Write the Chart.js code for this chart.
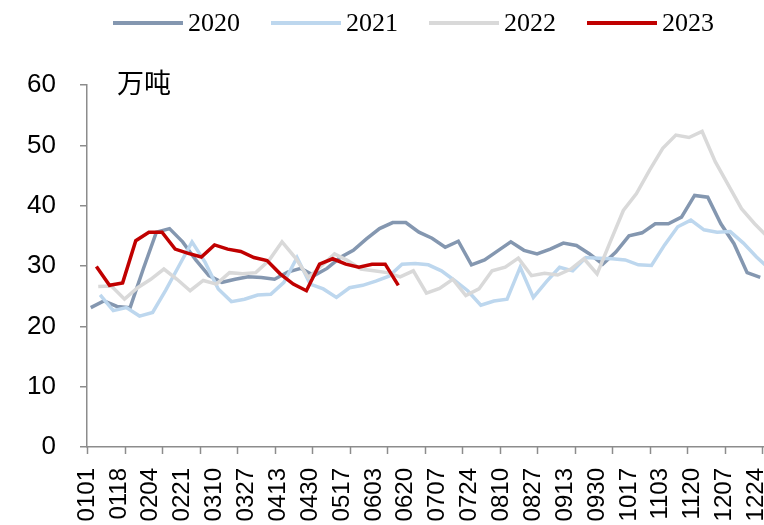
<!DOCTYPE html>
<html>
<head>
<meta charset="utf-8">
<script src="https://cdn.jsdelivr.net/npm/chart.js@4.4.0/dist/chart.umd.min.js"></script>
<style>
  html, body { margin: 0; padding: 0; background: #fff; }
  canvas { display: block; }
</style>
</head>
<body>
<canvas id="chart" width="764" height="525"></canvas>
<script>
// weekly readings, 万吨; first reading's day-of-year per year
const years = ['2020', '2021', '2022', '2023'];
const startDay = [2, 7, 6, 5];

const v2020 = [23.1, 24.2, 23.3, 23.1, 29.5, 35.6, 36.2, 34.0, 31.0, 28.4,
  27.3, 27.8, 28.2, 28.1, 27.8, 29.0, 29.6, 28.4, 29.6, 31.4,
  32.6, 34.5, 36.2, 37.2, 37.2, 35.6, 34.6, 33.1, 34.1, 30.2,
  31.0, 32.5, 34.0, 32.6, 32.0, 32.8, 33.8, 33.4, 32.0, 30.3,
  32.3, 35.0, 35.5, 37.0, 37.0, 38.1, 41.7, 41.4, 37.0, 33.7,
  28.9, 28.1];
const v2021 = [25.2, 22.6, 23.1, 21.7, 22.3, 26.0, 30.0, 34.0, 30.6, 26.2,
  24.1, 24.5, 25.2, 25.3, 27.3, 31.4, 27.0, 26.2, 24.8, 26.4,
  26.8, 27.5, 28.3, 30.3, 30.4, 30.2, 29.2, 27.6, 25.9, 23.5,
  24.2, 24.5, 29.8, 24.8, 27.4, 29.8, 29.2, 31.4, 31.3, 31.2,
  31.0, 30.2, 30.1, 33.5, 36.5, 37.6, 36.0, 35.6, 35.7, 33.8,
  31.5, 29.5];
const v2022 = [26.6, 26.7, 24.5, 26.4, 27.8, 29.5, 27.8, 25.9, 27.6, 27.0,
  28.9, 28.7, 28.9, 30.9, 34.0, 31.4, 28.1, 30.0, 32.0, 30.9,
  29.5, 29.2, 28.9, 28.2, 29.2, 25.5, 26.3, 27.8, 25.1, 26.2,
  29.2, 29.8, 31.3, 28.4, 28.8, 28.5, 29.5, 31.2, 28.7, 34.0,
  39.2, 42.0, 45.9, 49.5, 51.7, 51.3, 52.3, 47.3, 43.4, 39.5,
  37.0, 34.8];
const v2023 = [29.9, 26.8, 27.2, 34.2, 35.6, 35.6, 32.8, 32.1, 31.5, 33.5,
  32.8, 32.4, 31.4, 30.9, 28.7, 27.0, 25.9, 30.3, 31.2, 30.3,
  29.8, 30.3, 30.3, 26.8];

const tickLabels = ['0101', '0118', '0204', '0221', '0310', '0327', '0413', '0430',
  '0517', '0603', '0620', '0707', '0724', '0810', '0827', '0913', '0930', '1017',
  '1103', '1120', '1207', '1224'];
const unitLabel = '万吨';

const colors = ['#8497b0', '#bdd7ee', '#d9d9d9', '#c00000'];
const axisColor = '#8c8c8c';

function weekly(start, vals) {
  return vals.map((v, i) => ({ x: start + 7 * i, y: v }));
}

const series = [v2020, v2021, v2022, v2023];
const datasets = years.map((y, i) => ({
  label: y,
  data: weekly(startDay[i], series[i]),
  borderColor: colors[i],
  backgroundColor: colors[i],
  borderWidth: 3.5,
  pointRadius: 0,
  tension: 0,
  order: 3 - i   // later years on top
}));

const extras = {
  id: 'extras',
  afterDraw(chart) {
    const { ctx, chartArea, scales: { x } } = chart;
    ctx.save();
    // x axis tick marks (every 20 days, separate from the labels)
    ctx.strokeStyle = axisColor;
    ctx.lineWidth = 1.5;
    for (let d = 0; d <= x.max; d += 20) {
      const px = Math.round(x.getPixelForValue(d)) + 0.5;
      ctx.beginPath();
      ctx.moveTo(px, chartArea.bottom);
      ctx.lineTo(px, chartArea.bottom + 7);
      ctx.stroke();
    }
    // unit
    ctx.fillStyle = '#000';
    ctx.textBaseline = 'middle';
    ctx.textAlign = 'left';
    ctx.font = '27px "Noto Sans CJK SC"';
    ctx.fillText(unitLabel, chartArea.left + 30, chartArea.top - 2);
    // legend
    ctx.font = '26px "Liberation Serif"';
    chart.data.datasets.forEach((ds, i) => {
      const x0 = 113 + 158 * i;
      ctx.strokeStyle = ds.borderColor;
      ctx.lineWidth = 4;
      ctx.beginPath();
      ctx.moveTo(x0, 23);
      ctx.lineTo(x0 + 70, 23);
      ctx.stroke();
      ctx.fillText(ds.label, x0 + 75, 24);
    });
    ctx.restore();
  }
};

new Chart(document.getElementById('chart'), {
  type: 'line',
  data: { datasets },
  options: {
    responsive: false,
    animation: false,
    layout: { padding: { left: 27, top: 85, right: 0, bottom: 0 } },
    plugins: { legend: { display: false }, tooltip: { enabled: false } },
    scales: {
      x: {
        type: 'linear',
        min: 0,
        max: 361,
        afterBuildTicks: s => { s.ticks = tickLabels.map((t, i) => ({ value: i * 17 })); },
        afterFit: s => { s.paddingLeft = 0; s.paddingRight = 0; s.height = 78; },
        grid: { display: false, drawTicks: true, tickLength: 8 },
        border: { display: true, color: axisColor, width: 1.5 },
        ticks: {
          autoSkip: false,
          minRotation: 90,
          maxRotation: 90,
          padding: 13,
          color: '#000',
          font: { family: '"Liberation Sans", Arial', size: 24 },
          callback: (v, i) => tickLabels[i]
        }
      },
      y: {
        min: 0,
        max: 60,
        afterFit: s => { s.width = 60; },
        ticks: {
          stepSize: 10,
          padding: 24,
          color: '#000',
          font: { family: '"Liberation Sans", Arial', size: 26 }
        },
        grid: { drawOnChartArea: false, drawTicks: true, tickLength: 7, color: axisColor, lineWidth: 1.5 },
        border: { display: true, color: axisColor, width: 1.5 }
      }
    }
  },
  plugins: [extras]
});
</script>
</body>
</html>
